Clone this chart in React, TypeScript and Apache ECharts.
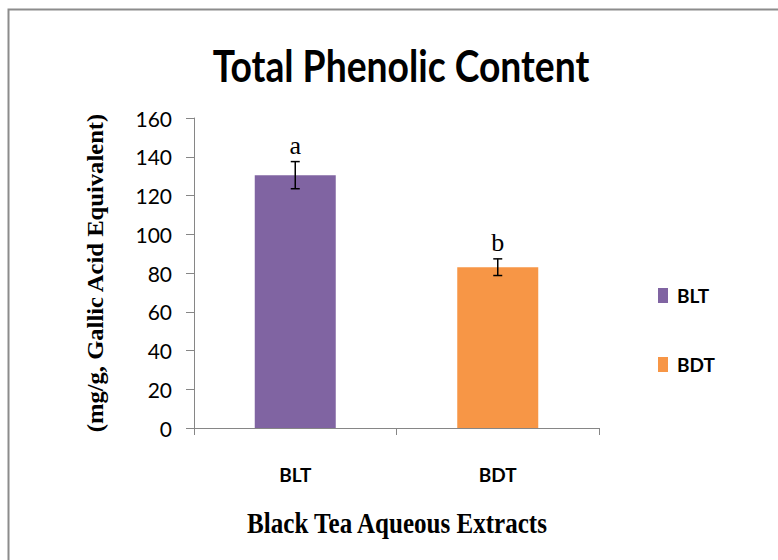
import React, { useEffect, useRef } from "react";
import * as echarts from "echarts";

const categories = ["BLT", "BDT"];
const seriesNames = ["BLT", "BDT"];
const meanValues = [130.5, 83];
const errorValues = [7, 4.3];
const letters = ["a", "b"];
const colors = ["#8064A2", "#F79646"];
const yTicks = { min: 0, max: 160, interval: 20 };
const titleText = "Total Phenolic Content";
const yAxisTitle = "(mg/g, Gallic Acid Equivalent)";
const xAxisTitle = "Black Tea Aqueous Extracts";

const SANS = "Lato, 'Open Sans', sans-serif";
const SERIF = "'Liberation Serif', 'DejaVu Serif', serif";

function measure(text: string, font: string): number {
  const ctx = document.createElement("canvas").getContext("2d")!;
  ctx.font = font;
  return ctx.measureText(text).width || 1;
}

export default function App() {
  const ref = useRef<HTMLDivElement>(null);
  useEffect(() => {
    document.body.style.margin = "0";
    const chart = echarts.init(ref.current!, null, { renderer: "svg" });

    const titleSize = 44;
    const titleScale = 377 / measure(titleText, `bold ${titleSize}px Lato`);
    const ySize = 24;
    const yScale = 320 / measure(yAxisTitle, `bold ${ySize}px 'Liberation Serif'`);
    const xSize = 29;
    const xScale = 302 / measure(xAxisTitle, `bold ${xSize}px 'Liberation Serif'`);

    const barSeries = seriesNames.map((name, i) => ({
      name,
      type: "bar",
      barWidth: 81,
      barGap: "-100%",
      itemStyle: { color: colors[i] },
      data: categories.map((_, j) => (j === i ? meanValues[i] : "-")),
    }));
    const errData = categories.map((_, i) => [
      i,
      meanValues[i] - errorValues[i],
      meanValues[i] + errorValues[i],
    ]);
    chart.setOption({
      animation: false,
      backgroundColor: "#ffffff",
      legend: {
        orient: "vertical",
        left: 653,
        top: 281,
        itemWidth: 10,
        itemHeight: 15,
        itemGap: 50,
        icon: "rect",
        data: seriesNames,
        textStyle: {
          fontFamily: SANS,
          fontWeight: "bold",
          fontSize: 19,
          color: "#000",
          padding: [0, 0, 0, 4],
        },
      },
      grid: { left: 194, right: 179, top: 118, bottom: 132 },
      xAxis: {
        type: "category",
        data: categories,
        axisLine: { lineStyle: { color: "#868686", width: 1 } },
        axisTick: { show: true, length: 7, lineStyle: { color: "#868686" } },
        axisLabel: {
          margin: 37,
          fontFamily: SANS,
          fontWeight: "bold",
          fontSize: 19,
          color: "#000",
        },
      },
      yAxis: {
        type: "value",
        min: yTicks.min,
        max: yTicks.max,
        interval: yTicks.interval,
        splitLine: { show: false },
        axisLine: { show: true, lineStyle: { color: "#868686", width: 1 } },
        axisTick: { show: true, length: 8, lineStyle: { color: "#868686" } },
        axisLabel: {
          margin: 22,
          fontFamily: SANS,
          fontSize: 21,
          color: "#000",
        },
      },
      graphic: [
        {
          type: "rect",
          shape: { x: 8.5, y: 9.5, width: 900, height: 700 },
          style: { fill: "none", stroke: "#8c8c8c", lineWidth: 2 },
          silent: true,
        },
        {
          type: "text",
          x: 401,
          y: 65,
          scaleX: titleScale,
          style: {
            text: titleText,
            fontFamily: SANS,
            fontWeight: "bold",
            fontSize: titleSize,
            fill: "#000",
            align: "center",
            verticalAlign: "middle",
          },
        },
        {
          type: "text",
          x: 95,
          y: 273,
          rotation: Math.PI / 2,
          scaleX: yScale,
          style: {
            text: yAxisTitle,
            fontFamily: SERIF,
            fontWeight: "bold",
            fontSize: ySize,
            fill: "#000",
            align: "center",
            verticalAlign: "middle",
          },
        },
        {
          type: "text",
          x: 397,
          y: 523,
          scaleX: xScale,
          style: {
            text: xAxisTitle,
            fontFamily: SERIF,
            fontWeight: "bold",
            fontSize: xSize,
            fill: "#000",
            align: "center",
            verticalAlign: "middle",
          },
        },
      ],
      series: [
        ...barSeries,
        {
          type: "custom",
          name: "error",
          data: errData,
          z: 10,
          renderItem: (params: any, api: any) => {
            const x = api.value(0);
            const lo = api.coord([x, api.value(1)]);
            const hi = api.coord([x, api.value(2)]);
            const hw = 4.5;
            const st = { stroke: "#000", lineWidth: 1.5 };
            return {
              type: "group",
              children: [
                { type: "line", shape: { x1: lo[0], y1: lo[1], x2: hi[0], y2: hi[1] }, style: st },
                { type: "line", shape: { x1: lo[0] - hw, y1: lo[1], x2: lo[0] + hw, y2: lo[1] }, style: st },
                { type: "line", shape: { x1: hi[0] - hw, y1: hi[1], x2: hi[0] + hw, y2: hi[1] }, style: st },
                {
                  type: "text",
                  x: hi[0],
                  y: hi[1] - 3,
                  style: {
                    text: letters[params.dataIndex],
                    fontFamily: SERIF,
                    fontSize: 26,
                    fill: "#000",
                    align: "center",
                    verticalAlign: "bottom",
                  },
                },
              ],
            };
          },
        },
      ],
    });
    return () => chart.dispose();
  }, []);
  return <div ref={ref} style={{ width: 778, height: 560 }} />;
}
